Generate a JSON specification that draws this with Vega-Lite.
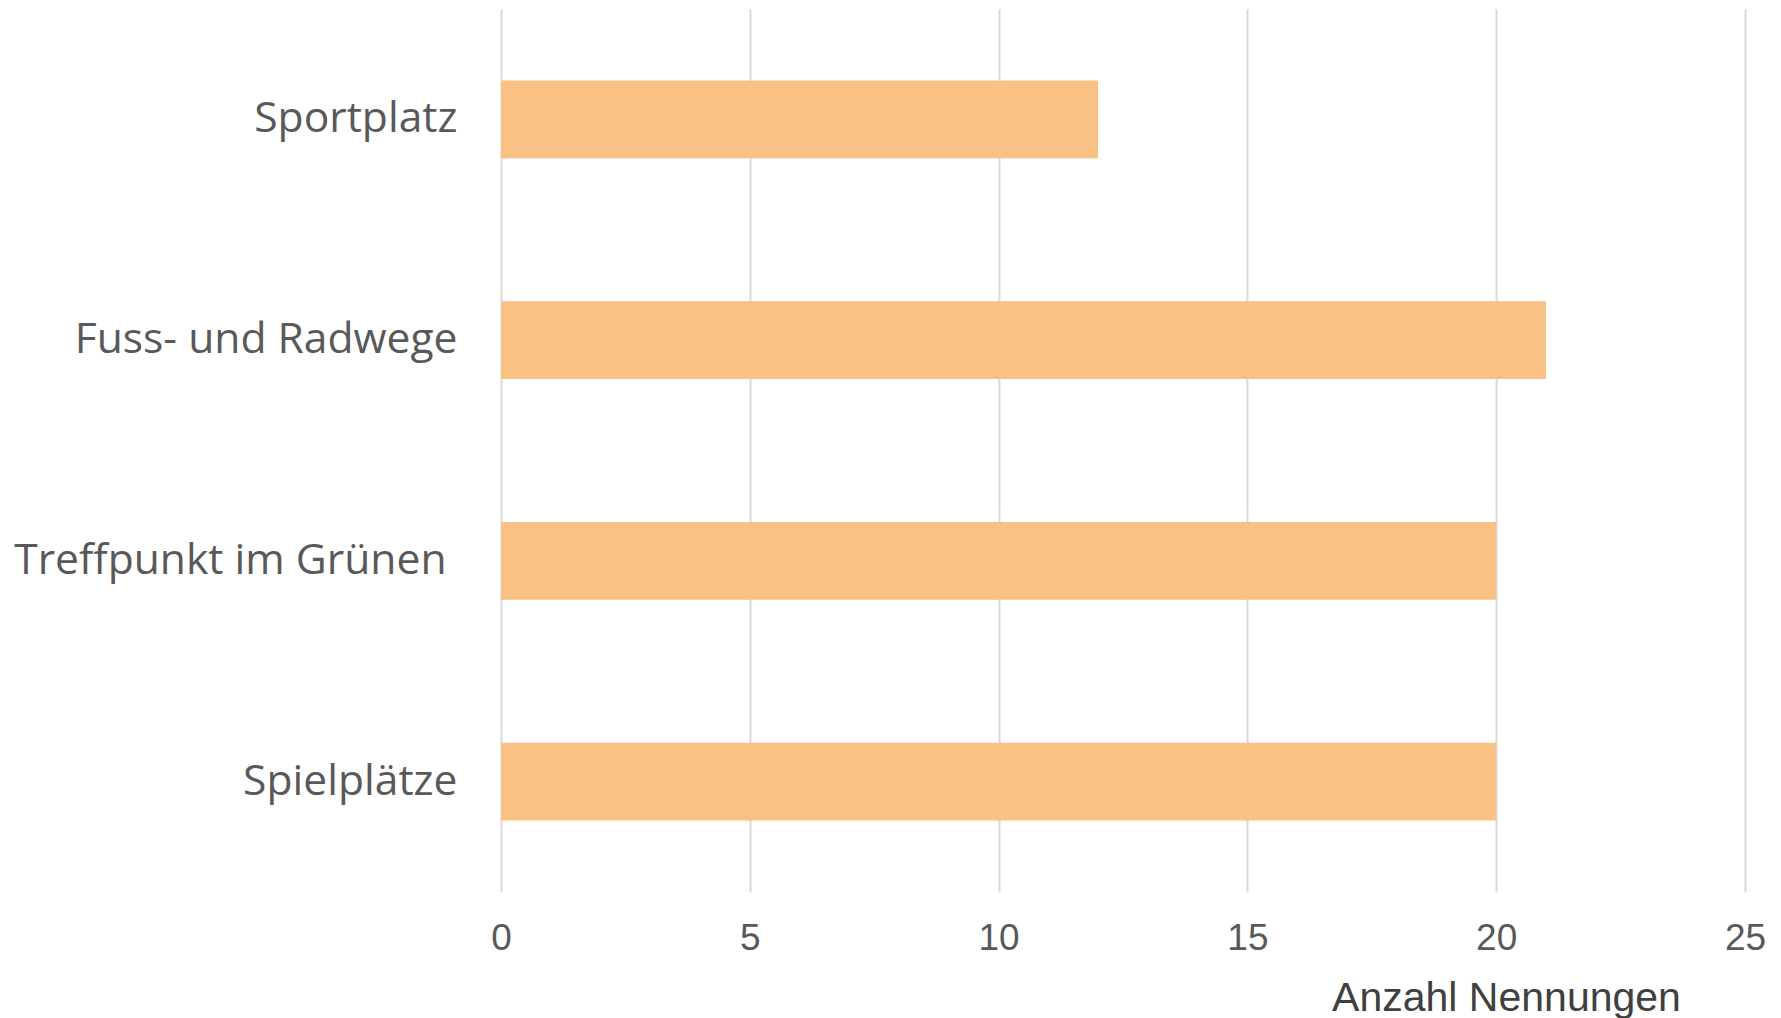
{
  "$schema": "https://vega.github.io/schema/vega-lite/v6.json",
  "width": 1244,
  "height": 883,
  "autosize": {"type": "none"},
  "padding": {"left": 501, "top": 9, "right": 36, "bottom": 126},
  "background": "white",
  "config": {"view": {"stroke": null}},
  "data": {
    "values": [
      {"Kategorie": "Sportplatz", "Anzahl": 12},
      {"Kategorie": "Fuss- und Radwege", "Anzahl": 21},
      {"Kategorie": "Treffpunkt im Grünen", "Anzahl": 20},
      {"Kategorie": "Spielplätze", "Anzahl": 20}
    ]
  },
  "mark": {"type": "bar", "color": "#F9C183"},
  "encoding": {
    "y": {
      "field": "Kategorie",
      "type": "nominal",
      "sort": null,
      "scale": {"paddingInner": 0.647, "paddingOuter": 0.3235},
      "axis": {
        "title": null,
        "domain": false,
        "ticks": false,
        "labelFont": "Open Sans",
        "labelFontSize": 42.6,
        "labelColor": "#595959",
        "labelPadding": {"condition": {"test": "datum.value === 'Treffpunkt im Grünen'", "value": 55}, "value": 44},
        "labelLimit": 600
      }
    },
    "x": {
      "field": "Anzahl",
      "type": "quantitative",
      "scale": {"domain": [0, 25], "nice": false},
      "axis": {
        "values": [0, 5, 10, 15, 20, 25],
        "title": "Anzahl Nennungen",
        "domain": false,
        "ticks": false,
        "grid": true,
        "gridColor": "#D9D9D9",
        "gridWidth": 2,
        "labelFont": "Liberation Sans",
        "labelFontSize": 37,
        "labelColor": "#595959",
        "labelPadding": 28,
        "labelFlush": false,
        "titleFont": "Liberation Sans",
        "titleFontSize": 41,
        "titleFontWeight": "normal",
        "titleColor": "#404040",
        "titleX": 1005,
        "titleY": 118,
        "titleAlign": "center",
        "titleBaseline": "alphabetic"
      }
    }
  }
}
